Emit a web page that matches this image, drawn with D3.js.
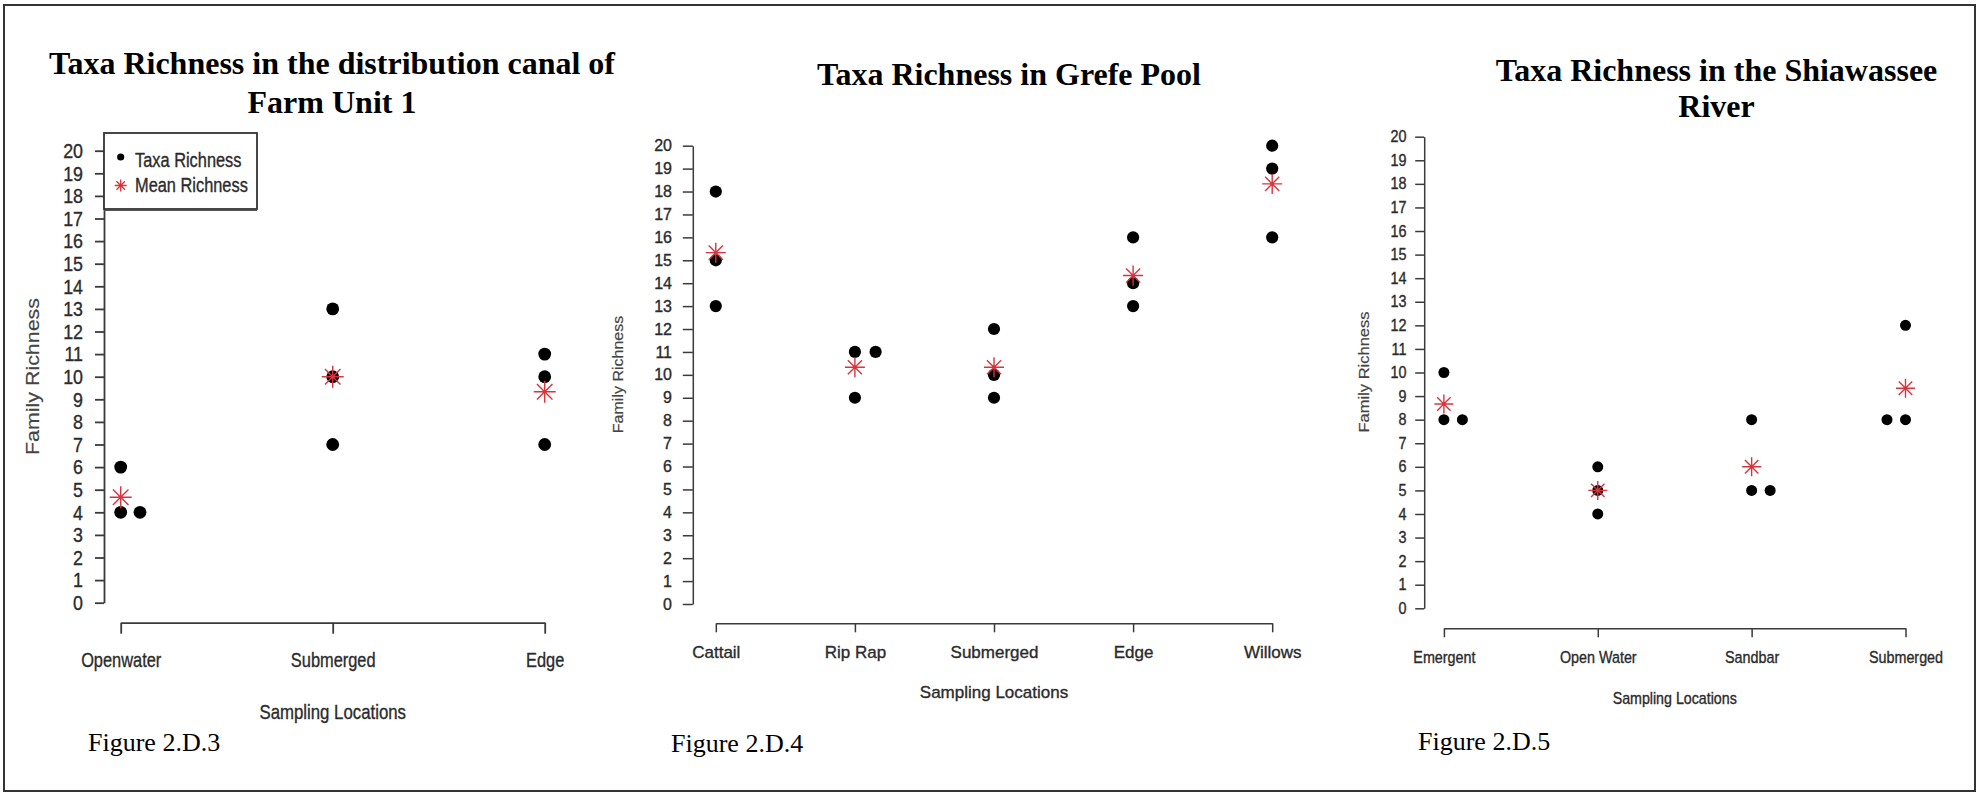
<!DOCTYPE html>
<html>
<head>
<meta charset="utf-8">
<script src="https://cdn.jsdelivr.net/npm/d3@7"></script>
<style>
  html, body { margin: 0; padding: 0; background: #fff; }
  svg { display: block; }
</style>
</head>
<body>
<svg id="chart" width="1984" height="793"></svg>
<script>
// ---------------- DATA ----------------
const yTickValues = [0,1,2,3,4,5,6,7,8,9,10,11,12,13,14,15,16,17,18,19,20];

const farmCategories = ["Openwater", "Submerged", "Edge"];
const farmValues     = [[6, 4, 4], [13, 10, 7], [11, 10, 7]];
const farmStack      = [[0, 0, 1], [0, 0, 0], [0, 0, 0]];

const grefeCategories = ["Cattail", "Rip Rap", "Submerged", "Edge", "Willows"];
const grefeValues     = [[18, 15, 13], [11, 11, 9], [12, 10, 9], [16, 14, 13], [20, 19, 16]];
const grefeStack      = [[0, 0, 0], [0, 1, 0], [0, 0, 0], [0, 0, 0], [0, 0, 0]];

const riverCategories = ["Emergent", "Open Water", "Sandbar", "Submerged"];
const riverValues     = [[10, 8, 8], [6, 5, 4], [8, 5, 5], [12, 8, 8]];
const riverStack      = [[0, 0, 1], [0, 0, 0], [0, 0, 1], [0, -1, 0]];

const titles = [
  ["Taxa Richness in the distribution canal of", "Farm Unit 1"],
  ["Taxa Richness in Grefe Pool"],
  ["Taxa Richness in the Shiawassee", "River"]
];
const captions = ["Figure 2.D.3", "Figure 2.D.4", "Figure 2.D.5"];
const yAxisTitle = "Family Richness";
const xAxisTitle = "Sampling Locations";
const legendLabels = ["Taxa Richness", "Mean Richness"];

// ---------------- LAYOUT ----------------
const layouts = [
  { cats: farmCategories, vals: farmValues, stack: farmStack,
    titleX: 332, titleY: [74, 113], capX: 88, capY: 751,
    x0: 120.7, x1: 544.7, yTop: 150.7, yBot: 602.7, axisX: 104, tick: 9, pad: 12,
    tickFont: 21, tickSx: 0.85, xAxisY: 622.7, xTick: 11,
    catBase: 667, catFont: 20.5, catSx: 0.8,
    ttlBase: 719, ttlFont: 20, ttlSx: 0.84,
    ylabX: 39, ylabY: 376.5, ylabFont: 21.4, ylabSx: 0.84,
    dotR: 6.4, starR: 11, stackStep: 19.3, axisW: 1.8, legend: true },
  { cats: grefeCategories, vals: grefeValues, stack: grefeStack,
    titleX: 1009, titleY: [85], capX: 671, capY: 751.7,
    x0: 715.8, x1: 1272.2, yTop: 145.7, yBot: 604, axisX: 692.8, tick: 10, pad: 10.8,
    tickFont: 16, tickSx: 1.0, xAxisY: 623.3, xTick: 9,
    catBase: 658.3, catFont: 17, catSx: 1.0,
    ttlBase: 698, ttlFont: 17, ttlSx: 1.0,
    ylabX: 623.3, ylabY: 374.5, ylabFont: 16, ylabSx: 0.9,
    dotR: 6.1, starR: 10, stackStep: 20.7, axisW: 1.5, legend: false },
  { cats: riverCategories, vals: riverValues, stack: riverStack,
    titleX: 1716.5, titleY: [80.5, 117.3], capX: 1418, capY: 750,
    x0: 1443.9, x1: 1905.5, yTop: 136.7, yBot: 608.3, axisX: 1424.2, tick: 9, pad: 8.7,
    tickFont: 16, tickSx: 0.9, xAxisY: 628.3, xTick: 9,
    catBase: 663.3, catFont: 16.3, catSx: 0.88,
    ttlBase: 704, ttlFont: 16, ttlSx: 0.89,
    ylabX: 1368.5, ylabY: 372, ylabFont: 16.5, ylabSx: 0.88,
    dotR: 5.5, starR: 9.5, stackStep: 18.5, axisW: 1.5, legend: false }
];

const SANS = "'Liberation Sans', Arial, sans-serif";
const SERIF = "'Liberation Serif', 'Times New Roman', serif";
const RED = "#d8343f";
const AXIS = "#3a3a3a";
const TEXT = "#2b2b2b";

const svg = d3.select("#chart");
svg.append("rect").attr("width", 1984).attr("height", 793).attr("fill", "#fff");
svg.append("rect").attr("x", 4).attr("y", 5).attr("width", 1971).attr("height", 786)
  .attr("fill", "none").attr("stroke", "#333").attr("stroke-width", 2);

function starPath(r) {
  const d = r / Math.SQRT2;
  return `M0,${-r}V${r}M${-r},0H${r}M${-d},${-d}L${d},${d}M${-d},${d}L${d},${-d}`;
}

function rText(sel) {
  return sel.attr("font-family", SANS).attr("fill", TEXT)
    .attr("stroke", TEXT).attr("stroke-width", 0.35);
}

layouts.forEach((L, i) => {
  const g = svg.append("g");

  // titles
  titles[i].forEach((t, k) => {
    g.append("text").attr("x", L.titleX).attr("y", L.titleY[k])
      .attr("text-anchor", "middle").attr("font-family", SERIF)
      .attr("font-weight", "bold").attr("font-size", 32).attr("fill", "#000").text(t);
  });

  // caption
  g.append("text").attr("x", L.capX).attr("y", L.capY)
    .attr("font-family", SERIF).attr("font-size", 26).attr("fill", "#000").text(captions[i]);

  const y = d3.scaleLinear().domain([0, 20]).range([L.yBot, L.yTop]);
  const x = d3.scalePoint().domain(L.cats).range([L.x0, L.x1]);

  // y axis
  const ya = g.append("g").attr("transform", `translate(${L.axisX},0)`)
    .call(d3.axisLeft(y).tickValues(yTickValues).tickFormat(d3.format("d"))
      .tickSize(L.tick).tickSizeOuter(0).tickPadding(L.pad));
  ya.select(".domain").attr("stroke", AXIS).attr("stroke-width", L.axisW);
  ya.selectAll(".tick line").attr("stroke", AXIS).attr("stroke-width", L.axisW);
  ya.selectAll(".tick text").each(function() {
    const t = d3.select(this);
    const tx = +t.attr("x");
    t.attr("x", 0).attr("transform", `translate(${tx},0) scale(${L.tickSx},1)`)
      .attr("font-size", L.tickFont);
    rText(t);
  });
  ya.attr("font-family", null).attr("font-size", null);

  // x axis
  const xa = g.append("g").attr("transform", `translate(0,${L.xAxisY})`)
    .call(d3.axisBottom(x).tickSize(L.xTick).tickSizeOuter(0));
  xa.select(".domain").attr("stroke", AXIS).attr("stroke-width", L.axisW);
  xa.selectAll(".tick line").attr("stroke", AXIS).attr("stroke-width", L.axisW);
  rText(xa.selectAll(".tick text").attr("y", null).attr("dy", null)
    .attr("transform", `translate(0,${L.catBase - L.xAxisY}) scale(${L.catSx},1)`)
    .attr("font-size", L.catFont));
  xa.attr("font-family", null).attr("font-size", null);

  // axis titles
  rText(g.append("text").attr("text-anchor", "middle")
    .attr("transform", `translate(${(L.x0 + L.x1) / 2},${L.ttlBase}) scale(${L.ttlSx},1)`)
    .attr("font-size", L.ttlFont).text(xAxisTitle));
  rText(g.append("text").attr("text-anchor", "middle")
    .attr("transform", `translate(${L.ylabX},${L.ylabY}) scale(${L.ylabSx},1) rotate(-90)`)
    .attr("font-size", L.ylabFont).text(yAxisTitle)).attr("stroke-width", 0.2).attr("fill", "#444").attr("stroke", "#444");

  // points
  const pts = [];
  L.cats.forEach((c, ci) => L.vals[ci].forEach((v, vi) => pts.push({ c, v, s: L.stack[ci][vi] })));
  g.append("g").selectAll("circle").data(pts).join("circle")
    .attr("cx", d => x(d.c) + d.s * L.stackStep)
    .attr("cy", d => y(d.v))
    .attr("r", L.dotR).attr("fill", "#000");

  // means
  const means = L.cats.map((c, ci) => ({ c, m: d3.mean(L.vals[ci]) }));
  g.append("g").selectAll("path").data(means).join("path")
    .attr("transform", d => `translate(${x(d.c)},${y(d.m)})`)
    .attr("d", starPath(L.starR)).attr("fill", "none")
    .attr("stroke", RED).attr("stroke-width", 1.4);

  // legend
  if (L.legend) {
    const lg = g.append("g");
    lg.append("rect").attr("x", L.axisX).attr("y", 133).attr("width", 153).attr("height", 76)
      .attr("fill", "#fff").attr("stroke", "#333").attr("stroke-width", 1.8);
    lg.append("line").attr("x1", L.axisX).attr("x2", L.axisX + 153).attr("y1", 210.5).attr("y2", 210.5)
      .attr("stroke", "#555").attr("stroke-width", 1.2);
    lg.append("circle").attr("cx", 120.7).attr("cy", 157).attr("r", 3.6).attr("fill", "#000");
    lg.append("path").attr("transform", "translate(120.7,185.5)").attr("d", starPath(6))
      .attr("fill", "none").attr("stroke", RED).attr("stroke-width", 1.3);
    [166.7, 192.3].forEach((by, k) => {
      rText(lg.append("text").attr("transform", `translate(135,${by}) scale(0.84,1)`)
        .attr("font-size", 19.5).text(legendLabels[k]));
    });
  }
});
</script>
</body>
</html>
